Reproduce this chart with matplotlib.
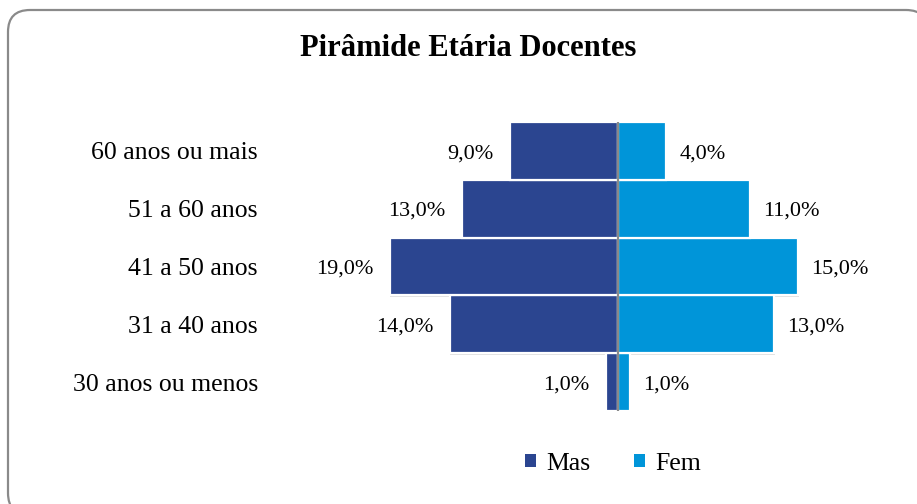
import matplotlib
matplotlib.use("Agg")
import matplotlib.pyplot as plt
from matplotlib.patches import FancyBboxPatch

categories = ["30 anos ou menos", "31 a 40 anos", "41 a 50 anos", "51 a 60 anos", "60 anos ou mais"]
mas = [1.0, 14.0, 19.0, 13.0, 9.0]
fem = [1.0, 13.0, 15.0, 11.0, 4.0]
series_names = ["Mas", "Fem"]
title = "Pirâmide Etária Docentes"

MAS_C = "#2B4590"
FEM_C = "#0095D9"
SERIF = ["Liberation Serif", "DejaVu Serif"]
plt.rcParams["font.family"] = SERIF

W, H = 917, 504
fig = plt.figure(figsize=(W / 100, H / 100), dpi=100)

# background frame
bg = fig.add_axes([0, 0, 1, 1], zorder=0)
bg.set_xlim(0, W)
bg.set_ylim(H, 0)
bg.axis("off")
bg.add_patch(FancyBboxPatch((8, 10), 920, 505,
                            boxstyle="round,pad=0,rounding_size=22",
                            facecolor="white", edgecolor="#8a8a8a", lw=1.6))

# main axes in pixel geometry
left_px, right_px = 330, 906
top_px, bot_px = 122, 411
ax = fig.add_axes([left_px / W, 1 - bot_px / H, (right_px - left_px) / W, (bot_px - top_px) / H], zorder=1)
ax.patch.set_alpha(0)

y = list(range(len(categories)))
neg_mas = [-v for v in mas]

# soft shadows
ax.barh([i - 0.03 for i in y], neg_mas, height=1.0, left=0, color="#000000", alpha=0.12,
        linewidth=0, zorder=1)
ax.barh([i - 0.03 for i in y], [v + 0.12 for v in fem], height=1.0, color="#000000", alpha=0.12,
        linewidth=0, zorder=1)

ax.barh(y, neg_mas, height=1.0, color=MAS_C, edgecolor="white", linewidth=1.6, label=series_names[0], zorder=2)
ax.barh(y, fem, height=1.0, color=FEM_C, edgecolor="white", linewidth=1.6, label=series_names[1], zorder=2)

ax.axvline(0, color="#8a8a8a", lw=1.6, zorder=3)

ax.set_xlim(-24, 24)
ax.set_ylim(-0.5, len(categories) - 0.5)

for i, (m, f) in enumerate(zip(mas, fem)):
    ax.annotate(f"{m:.1f}%".replace(".", ","), (-m, i), xytext=(-12, -2), textcoords="offset points",
                ha="right", va="center", fontsize=16, color="black")
    ax.annotate(f"{f:.1f}%".replace(".", ","), (f, i), xytext=(9.5, -2), textcoords="offset points",
                ha="left", va="center", fontsize=16, color="black")

ax.set_yticks(y)
ax.set_yticklabels(categories, fontsize=18.5)
ax.tick_params(axis="y", length=0, pad=52)
ax.set_xticks([])
for s in ax.spines.values():
    s.set_visible(False)

fig.text(468 / W, 1 - 48 / H, title, ha="center", va="center", fontsize=22,
         fontweight="bold")

leg = fig.legend(loc="center", bbox_to_anchor=(613 / W, 1 - 464 / H), ncol=2, frameon=False,
                 prop={"size": 18.5}, handlelength=0.42, handleheight=0.42,
                 handletextpad=0.4, columnspacing=1.7)
for h in leg.legend_handles:
    h.set_edgecolor("none")

fig.savefig("out.png", dpi=100)
